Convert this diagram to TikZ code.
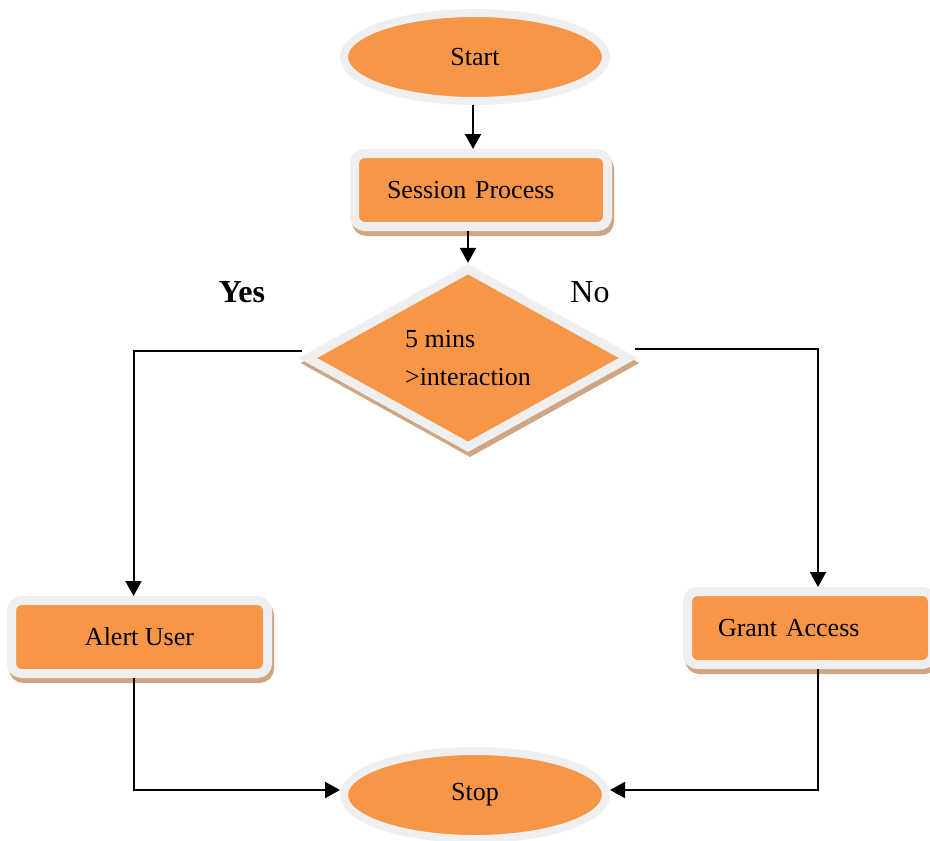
\documentclass[tikz,border=0pt]{standalone}
\usepackage{fontspec}
\setmainfont{Liberation Serif}
\usetikzlibrary{shapes.geometric,arrows.meta}
\definecolor{flussorange}{HTML}{F79646}
\definecolor{rand}{HTML}{EFEFEF}
\definecolor{schatten}{HTML}{CFA583}
\tikzset{
  schattenwurf/.style={preaction={draw=schatten, fill=schatten, line width=4.5pt,
      transform canvas={xshift=1pt,yshift=-2.5pt}}},
  terminal/.style={ellipse, draw=rand, line width=4pt, fill=flussorange,
      minimum width=131pt, minimum height=44pt, inner sep=0pt,
      font=\fontsize{13}{15}\selectfont},
  prozess/.style={rectangle, rounded corners=5pt, draw=rand, line width=4.5pt,
      fill=flussorange, minimum height=36.5pt, inner ysep=0pt, schattenwurf,
      font=\fontsize{13}{15}\selectfont},
  entscheidung/.style={diamond, draw=rand, line width=4.5pt, fill=flussorange,
      minimum width=162pt, minimum height=83pt, inner sep=0pt, schattenwurf,
      align=left, font=\fontsize{13}{15}\selectfont},
  pfeil/.style={-{Triangle[length=7.5pt,width=8pt]}, line width=1pt},
  marke/.style={font=\fontsize{16}{18}\selectfont}
}
\begin{document}
\begin{tikzpicture}[x=0.5pt,y=-0.5pt]
  \useasboundingbox (0,0) rectangle (930,840);
  % Knoten
  \node[terminal] (start) at (475,57) {Start};
  \node[prozess, minimum width=126.5pt, text width=94pt, inner xsep=16.25pt, align=left]
    (sitzung) at (481,190) {Session Process};
  \node[entscheidung] (pruefung) at (468,358) {5 mins\\[4pt]>interaction};
  \node[prozess, minimum width=128pt] (warnung) at (139.5,637) {Alert User};
  \node[prozess, minimum width=122.5pt, text width=92pt, inner xsep=15.25pt, align=left]
    (zugang) at (810,628) {Grant Access};
  \node[terminal] (stopp) at (475,795) {Stop};
  % Beschriftungen
  \node[marke, font=\fontsize{16}{18}\selectfont\bfseries] (ja) at (242,292) {Yes};
  \node[marke] (nein) at (590,292) {No};
  % Verbindungen
  \draw[pfeil] ([xshift=-1pt]start.south) -- ([xshift=-1pt]start.south |- sitzung.north);
  \draw[pfeil] (pruefung.north |- sitzung.south) -- (pruefung.north);
  \draw[pfeil] ([yshift=3.5pt]pruefung.west) -| ([xshift=-3pt]warnung.north);
  \draw[pfeil] ([yshift=4.5pt]pruefung.east) -| ([xshift=4pt]zugang.north);
  \draw[pfeil] ([xshift=-3pt]warnung.south) |- ([yshift=2.5pt]stopp.west);
  \draw[pfeil] ([xshift=4pt]zugang.south) |- ([yshift=2.5pt]stopp.east);
\end{tikzpicture}
\end{document}
